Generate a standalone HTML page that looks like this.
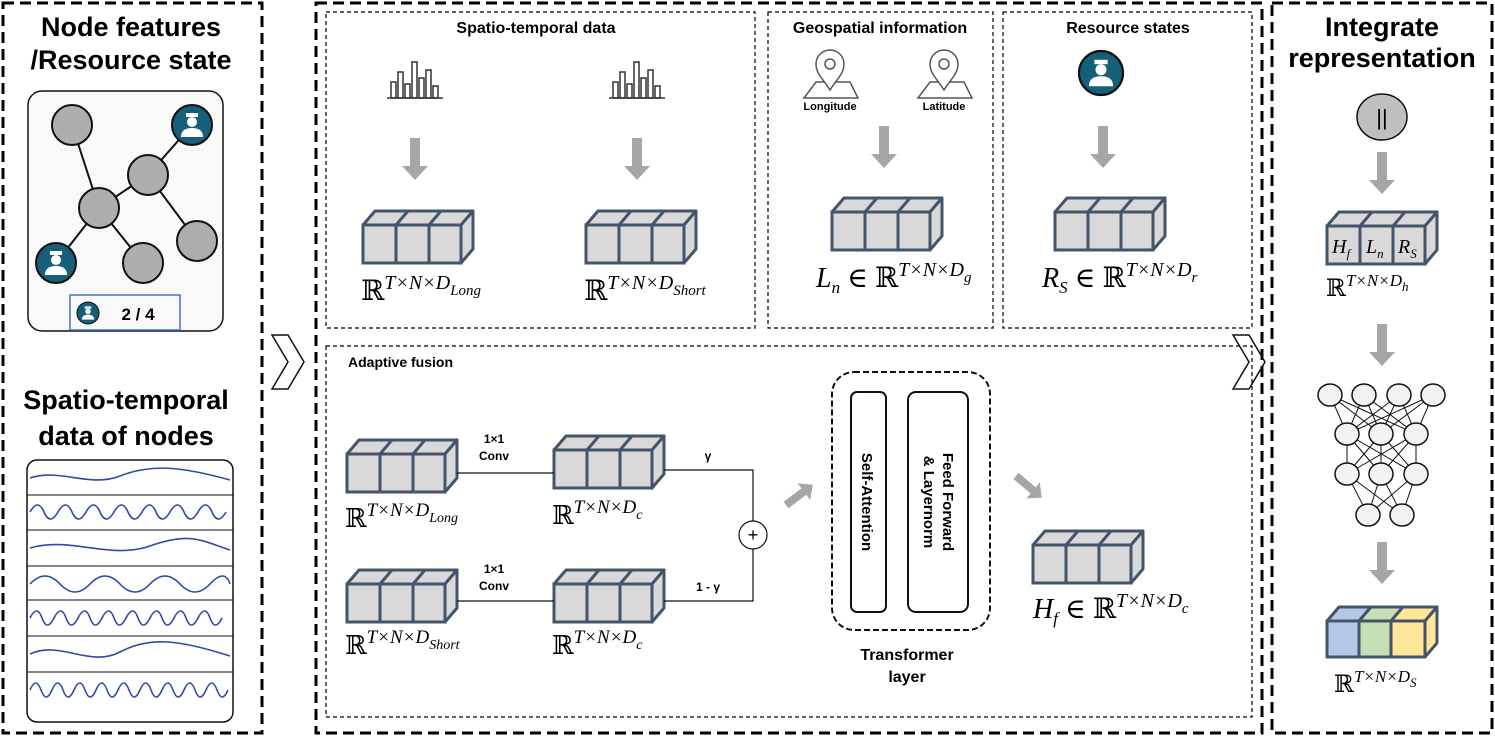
<!DOCTYPE html>
<html><head><meta charset="utf-8"><style>
body{margin:0;background:#fff}
svg{display:block;font-family:"Liberation Sans",sans-serif}
.t{font-weight:bold;fill:#000}
.m{font-family:"Liberation Serif","DejaVu Serif",serif;font-style:italic;fill:#000}
.r{font-family:"DejaVu Serif",serif;font-style:normal}
</style></head><body>
<svg width="1495" height="738" viewBox="0 0 1495 738">
<defs>
<g id="blk">
<polygon points="0,14 12,0 110,0 98,14" fill="#d9d9d9" stroke="#44546a" stroke-width="3" stroke-linejoin="round"/>
<polygon points="98,14 110,0 110,38 98,52" fill="#d9d9d9" stroke="#44546a" stroke-width="3" stroke-linejoin="round"/>
<rect x="0" y="14" width="98" height="38" fill="#d9d9d9" stroke="#44546a" stroke-width="3"/>
<line x1="33" y1="14" x2="33" y2="52" stroke="#44546a" stroke-width="3"/>
<line x1="66" y1="14" x2="66" y2="52" stroke="#44546a" stroke-width="3"/>
<line x1="33" y1="14" x2="45" y2="0" stroke="#44546a" stroke-width="3"/>
<line x1="66" y1="14" x2="78" y2="0" stroke="#44546a" stroke-width="3"/>
</g>
<g id="arr"><rect x="-5" y="0" width="10" height="30" fill="#a6a6a6"/><polygon points="-13,28 13,28 0,42" fill="#a6a6a6"/></g>
<g id="bars" fill="none" stroke="#333" stroke-width="1.5">
<line x1="-28" y1="22" x2="28" y2="22"/>
<rect x="-24" y="6" width="5" height="16"/><rect x="-17" y="-4" width="5" height="26"/><rect x="-10" y="8" width="5" height="14"/><rect x="-3" y="-14" width="5" height="36"/><rect x="4" y="2" width="5" height="20"/><rect x="11" y="-6" width="5" height="28"/><rect x="18" y="10" width="5" height="12"/>
</g>
<g id="pin" fill="none" stroke="#555" stroke-width="1.5">
<polygon points="-26,30 -14,14 20,14 28,30"/>
<path d="M0,22 C-6,12 -14,6 -14,-4 A14,14 0 1 1 14,-4 C14,6 6,12 0,22Z" fill="#fff"/>
<circle cx="0" cy="-4" r="5"/>
</g>
<g id="cop"><circle r="20" fill="#155f78" stroke="#111" stroke-width="2"/><rect x="-6" y="-12" width="12" height="4" fill="#fff"/><circle cy="-3" r="5" fill="#fff"/><path d="M-11,12 Q-11,3 0,3 Q11,3 11,12Z" fill="#fff"/></g>
</defs>

<g fill="none" stroke="#000" stroke-width="3" stroke-dasharray="11,6">
<rect x="3" y="3" width="259" height="730"/>
<rect x="316" y="3" width="946" height="730"/>
<rect x="1272" y="3" width="220" height="730"/>
</g>
<g fill="none" stroke="#000" stroke-width="1.2" stroke-dasharray="4,3">
<rect x="326" y="12" width="429" height="316"/>
<rect x="768" y="12" width="225" height="316"/>
<rect x="1003" y="12" width="249" height="316"/>
<rect x="326" y="346" width="926" height="371"/>
</g>

<text class="t" x="131" y="36" font-size="27" text-anchor="middle">Node features</text>
<text class="t" x="131" y="69" font-size="27" text-anchor="middle">/Resource state</text>
<rect x="28" y="91" width="195" height="240" rx="14" fill="#f9f9f9" stroke="#111" stroke-width="1.5"/>
<g stroke="#111" stroke-width="2">
<line x1="72" y1="125" x2="99" y2="208"/><line x1="99" y1="208" x2="148" y2="175"/><line x1="148" y1="175" x2="192" y2="125"/><line x1="148" y1="175" x2="197" y2="241"/><line x1="99" y1="208" x2="143" y2="263"/><line x1="99" y1="208" x2="56" y2="263"/>
</g>
<g fill="#b0adad" stroke="#111" stroke-width="2">
<circle cx="72" cy="125" r="20"/><circle cx="148" cy="175" r="20"/><circle cx="99" cy="208" r="20"/><circle cx="197" cy="241" r="20"/><circle cx="143" cy="263" r="20"/>
</g>
<use href="#cop" x="192" y="125"/><use href="#cop" x="56" y="263"/>
<rect x="70" y="295" width="110" height="35" fill="none" stroke="#4472c4" stroke-width="1.5"/>
<g transform="translate(88,313) scale(0.55)"><use href="#cop"/></g>
<text class="t" x="138" y="320" font-size="17" text-anchor="middle">2 / 4</text>

<text class="t" x="126" y="409" font-size="27" text-anchor="middle">Spatio-temporal</text>
<text class="t" x="126" y="445" font-size="27" text-anchor="middle">data of nodes</text>
<rect x="27" y="460" width="206" height="262" rx="10" fill="#fff" stroke="#111" stroke-width="1.5"/>
<g stroke="#111" stroke-width="1">
<line x1="27" y1="495" x2="233" y2="495"/><line x1="27" y1="530" x2="233" y2="530"/><line x1="27" y1="566" x2="233" y2="566"/><line x1="27" y1="600" x2="233" y2="600"/><line x1="27" y1="636" x2="233" y2="636"/><line x1="27" y1="672" x2="233" y2="672"/>
</g>
<g fill="none" stroke="#2f4aa8" stroke-width="1.6">
<path d="M30,478 C60,468 90,488 120,476 S180,466 230,480"/>
<path d="M30,512 q8,-14 14,0 t14,0 t14,0 t14,0 t14,0 t14,0 t14,0 t14,0 t14,0 t14,0 t14,0 t14,0 t14,0 t14,0"/>
<path d="M30,548 C70,536 110,560 150,546 S200,540 230,550"/>
<path d="M30,584 q15,-16 30,0 t30,0 t30,0 t30,0 t30,0 t30,0 t20,0"/>
<path d="M30,618 q7,-14 12,0 t12,0 t12,0 t12,0 t12,0 t12,0 t12,0 t12,0 t12,0 t12,0 t12,0 t12,0 t12,0 t12,0 t12,0 t12,0"/>
<path d="M30,654 C60,640 90,668 120,652 S180,640 230,656"/>
<path d="M30,690 q6,-14 11,0 t11,0 t11,0 t11,0 t11,0 t11,0 t11,0 t11,0 t11,0 t11,0 t11,0 t11,0 t11,0 t11,0 t11,0 t11,0 t11,0 t11,0"/>
</g>

<g fill="none" stroke="#111" stroke-width="1.5">
<polygon points="272,335 288,335 304,362 288,389 272,389 288,362"/>
<polygon points="1233,335 1249,335 1265,362 1249,389 1233,389 1249,362"/>
</g>

<text class="t" x="536" y="33" font-size="16" text-anchor="middle">Spatio-temporal data</text>
<text class="t" x="880" y="33" font-size="16" text-anchor="middle">Geospatial information</text>
<text class="t" x="1128" y="33" font-size="16" text-anchor="middle">Resource states</text>
<use href="#bars" x="415" y="76"/><use href="#bars" x="637" y="76"/>
<use href="#arr" x="415" y="138"/><use href="#arr" x="637" y="138"/>
<use href="#blk" x="363" y="211"/><use href="#blk" x="586" y="211"/>
<text class="m" x="361" y="300" font-size="28"><tspan class="r">ℝ</tspan><tspan font-size="20" dy="-11">T×N×D</tspan><tspan font-size="15" dy="6">Long</tspan></text>
<text class="m" x="584" y="300" font-size="28"><tspan class="r">ℝ</tspan><tspan font-size="20" dy="-11">T×N×D</tspan><tspan font-size="15" dy="6">Short</tspan></text>
<use href="#pin" x="830" y="68"/><use href="#pin" x="944" y="68"/>
<text class="t" x="830" y="110" font-size="11" text-anchor="middle">Longitude</text>
<text class="t" x="944" y="110" font-size="11" text-anchor="middle">Latitude</text>
<use href="#arr" x="884" y="126"/>
<use href="#blk" x="832" y="198"/>
<text class="m" x="816" y="287" font-size="28">L<tspan font-size="17" dy="6">n</tspan><tspan dy="-6"> ∈ </tspan><tspan class="r">ℝ</tspan><tspan font-size="20" dy="-11">T×N×D</tspan><tspan font-size="15" dy="6">g</tspan></text>
<g transform="translate(1101,73) scale(1.1)"><use href="#cop"/></g>
<use href="#arr" x="1103" y="126"/>
<use href="#blk" x="1055" y="198"/>
<text class="m" x="1042" y="287" font-size="28">R<tspan font-size="17" dy="6">S</tspan><tspan dy="-6"> ∈ </tspan><tspan class="r">ℝ</tspan><tspan font-size="20" dy="-11">T×N×D</tspan><tspan font-size="15" dy="6">r</tspan></text>

<text class="t" x="348" y="367" font-size="14">Adaptive fusion</text>
<use href="#blk" x="347" y="440"/><use href="#blk" x="554" y="436"/>
<use href="#blk" x="347" y="570"/><use href="#blk" x="554" y="570"/>
<g stroke="#111" stroke-width="1.2" fill="none">
<line x1="457" y1="473" x2="554" y2="473"/>
<line x1="457" y1="601" x2="554" y2="601"/>
<polyline points="664,470 753,470 753,521"/>
<polyline points="664,601 753,601 753,549"/>
<circle cx="753" cy="535" r="14" fill="#fff"/>
</g>
<text x="753" y="541" font-size="18" text-anchor="middle">+</text>
<text class="t" x="494" y="443" font-size="12" text-anchor="middle">1×1</text>
<text class="t" x="494" y="460" font-size="12" text-anchor="middle">Conv</text>
<text class="t" x="494" y="573" font-size="12" text-anchor="middle">1×1</text>
<text class="t" x="494" y="590" font-size="12" text-anchor="middle">Conv</text>
<text class="t" x="708" y="460" font-size="12" text-anchor="middle">γ</text>
<text class="t" x="708" y="591" font-size="12" text-anchor="middle">1 - γ</text>
<text class="m" x="345" y="527" font-size="26"><tspan class="r">ℝ</tspan><tspan font-size="19" dy="-11">T×N×D</tspan><tspan font-size="14" dy="6">Long</tspan></text>
<text class="m" x="552" y="524" font-size="26"><tspan class="r">ℝ</tspan><tspan font-size="19" dy="-11">T×N×D</tspan><tspan font-size="14" dy="6">c</tspan></text>
<text class="m" x="345" y="654" font-size="26"><tspan class="r">ℝ</tspan><tspan font-size="19" dy="-11">T×N×D</tspan><tspan font-size="14" dy="6">Short</tspan></text>
<text class="m" x="552" y="654" font-size="26"><tspan class="r">ℝ</tspan><tspan font-size="19" dy="-11">T×N×D</tspan><tspan font-size="14" dy="6">c</tspan></text>
<g transform="translate(786,505) rotate(-127)"><use href="#arr" transform="scale(0.8)"/></g>
<g transform="translate(1016,476) rotate(-50)"><use href="#arr" transform="scale(0.8)"/></g>
<rect x="832" y="372" width="158" height="258" rx="22" fill="none" stroke="#111" stroke-width="2" stroke-dasharray="6,3"/>
<rect x="851" y="392" width="35" height="220" rx="6" fill="#fff" stroke="#111" stroke-width="2"/>
<rect x="908" y="392" width="60" height="220" rx="8" fill="#fff" stroke="#111" stroke-width="2"/>
<text class="t" font-size="15" transform="translate(862,502) rotate(90)" text-anchor="middle">Self-Attention</text>
<text class="t" font-size="15" transform="translate(924,502) rotate(90)" text-anchor="middle">&amp; Layernorm</text>
<text class="t" font-size="15" transform="translate(943,502) rotate(90)" text-anchor="middle">Feed Forward</text>
<text class="t" x="907" y="660" font-size="16" text-anchor="middle">Transformer</text>
<text class="t" x="907" y="682" font-size="16" text-anchor="middle">layer</text>
<use href="#blk" x="1033" y="531"/>
<text class="m" x="1033" y="618" font-size="28">H<tspan font-size="17" dy="6">f</tspan><tspan dy="-6"> ∈ </tspan><tspan class="r">ℝ</tspan><tspan font-size="20" dy="-11">T×N×D</tspan><tspan font-size="15" dy="6">c</tspan></text>

<text class="t" x="1382" y="36" font-size="27" text-anchor="middle">Integrate</text>
<text class="t" x="1382" y="67" font-size="27" text-anchor="middle">representation</text>
<ellipse cx="1382" cy="117" rx="25" ry="23" fill="#bfbfbf" stroke="#111" stroke-width="1.5"/>
<text x="1382" y="125" font-size="22" text-anchor="middle">||</text>
<use href="#arr" x="1382" y="152"/>
<g transform="translate(1327,212)"><use href="#blk"/></g>
<text class="m" x="1332" y="253" font-size="20">H<tspan font-size="13" dy="5">f</tspan></text>
<text class="m" x="1366" y="253" font-size="20">L<tspan font-size="13" dy="5">n</tspan></text>
<text class="m" x="1398" y="253" font-size="20">R<tspan font-size="13" dy="5">S</tspan></text>
<text class="m" x="1326" y="296" font-size="24"><tspan class="r">ℝ</tspan><tspan font-size="17" dy="-10">T×N×D</tspan><tspan font-size="13" dy="5">h</tspan></text>
<use href="#arr" x="1382" y="324"/>
<g transform="translate(0,50)">
<g stroke="#111" stroke-width="1">
<line x1="1330" y1="345" x2="1347" y2="384"/><line x1="1330" y1="345" x2="1381" y2="384"/><line x1="1330" y1="345" x2="1416" y2="384"/>
<line x1="1364" y1="345" x2="1347" y2="384"/><line x1="1364" y1="345" x2="1381" y2="384"/><line x1="1364" y1="345" x2="1416" y2="384"/>
<line x1="1399" y1="345" x2="1347" y2="384"/><line x1="1399" y1="345" x2="1381" y2="384"/><line x1="1399" y1="345" x2="1416" y2="384"/>
<line x1="1433" y1="345" x2="1347" y2="384"/><line x1="1433" y1="345" x2="1381" y2="384"/><line x1="1433" y1="345" x2="1416" y2="384"/>
<line x1="1347" y1="384" x2="1347" y2="424"/><line x1="1347" y1="384" x2="1381" y2="424"/><line x1="1347" y1="384" x2="1416" y2="424"/>
<line x1="1381" y1="384" x2="1347" y2="424"/><line x1="1381" y1="384" x2="1381" y2="424"/><line x1="1381" y1="384" x2="1416" y2="424"/>
<line x1="1416" y1="384" x2="1347" y2="424"/><line x1="1416" y1="384" x2="1381" y2="424"/><line x1="1416" y1="384" x2="1416" y2="424"/>
<line x1="1347" y1="424" x2="1368" y2="465"/><line x1="1347" y1="424" x2="1402" y2="465"/><line x1="1381" y1="424" x2="1368" y2="465"/><line x1="1381" y1="424" x2="1402" y2="465"/><line x1="1416" y1="424" x2="1368" y2="465"/><line x1="1416" y1="424" x2="1402" y2="465"/>
</g>
<g fill="#f2f2f2" stroke="#111" stroke-width="1.5">
<ellipse cx="1330" cy="345" rx="12" ry="11"/><ellipse cx="1364" cy="345" rx="12" ry="11"/><ellipse cx="1399" cy="345" rx="12" ry="11"/><ellipse cx="1433" cy="345" rx="12" ry="11"/>
<ellipse cx="1347" cy="384" rx="12" ry="11"/><ellipse cx="1381" cy="384" rx="12" ry="11"/><ellipse cx="1416" cy="384" rx="12" ry="11"/>
<ellipse cx="1347" cy="424" rx="12" ry="11"/><ellipse cx="1381" cy="424" rx="12" ry="11"/><ellipse cx="1416" cy="424" rx="12" ry="11"/>
<ellipse cx="1368" cy="465" rx="12" ry="11"/><ellipse cx="1402" cy="465" rx="12" ry="11"/>
</g>
</g>
<use href="#arr" x="1382" y="542"/>
<g transform="translate(1327,607)" stroke="#44546a" stroke-width="3" stroke-linejoin="round">
<polygon points="0,14 12,0 44,0 32,14" fill="#b4c7e7"/><polygon points="32,14 44,0 76,0 64,14" fill="#c5e0b4"/><polygon points="64,14 76,0 110,0 98,14" fill="#ffe699"/>
<polygon points="98,14 110,0 110,36 98,50" fill="#ffe699"/>
<rect x="0" y="14" width="32" height="36" fill="#b4c7e7"/><rect x="32" y="14" width="32" height="36" fill="#c5e0b4"/><rect x="64" y="14" width="34" height="36" fill="#ffe699"/>
</g>
<text class="m" x="1334" y="692" font-size="24"><tspan class="r">ℝ</tspan><tspan font-size="17" dy="-10">T×N×D</tspan><tspan font-size="13" dy="5">S</tspan></text>
</svg>
</body></html>
